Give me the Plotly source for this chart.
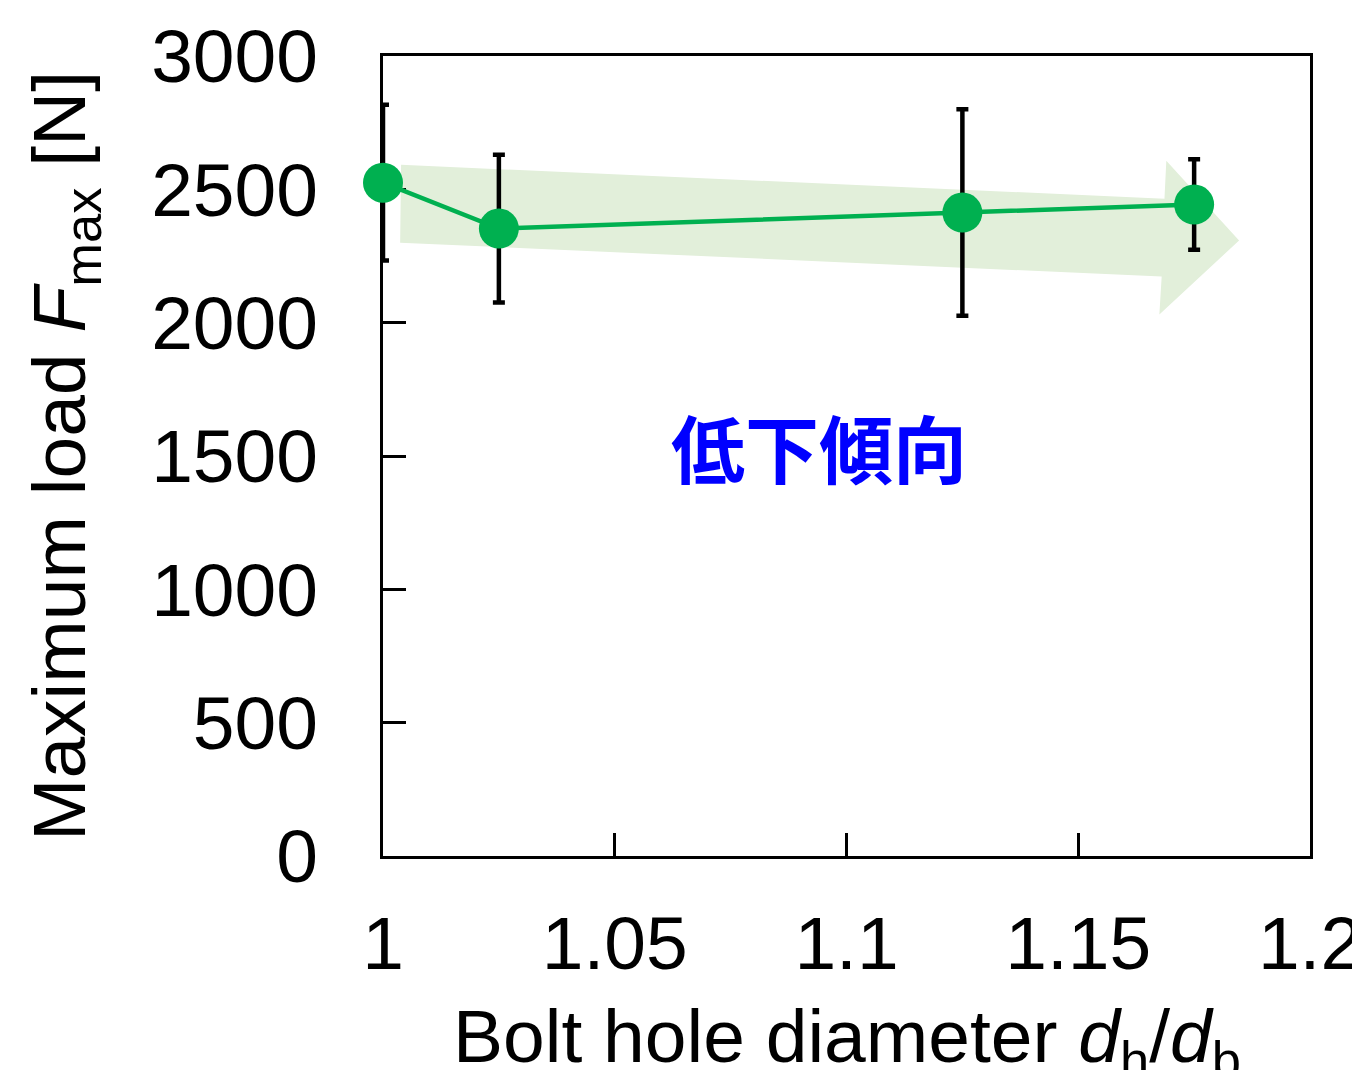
import plotly.graph_objects as go

# Data
ratio = [1.0, 1.025, 1.125, 1.175]
fmax = [2525, 2353, 2413, 2443]
fmax_err = [292, 277, 387, 170]

x_ticks = [1.0, 1.05, 1.1, 1.15, 1.2]
x_tick_text = ["1", "1.05", "1.1", "1.15", "1.2"]
y_ticks = [0, 500, 1000, 1500, 2000, 2500, 3000]
y_tick_text = ["0", "500", "1000", "1500", "2000", "2500", "3000"]

# Trend arrow outline (data coordinates)
arrow_x = [1.0039, 1.1686, 1.1690, 1.1847, 1.1675, 1.1680, 1.0037]
arrow_y = [2592, 2465, 2607, 2308, 2031, 2173, 2300]

trend_label = "低下傾向"
trend_pos = (1.094, 1541)

x_title = "Bolt hole diameter <i>d</i><sub>h</sub>/<i>d</i><sub>b</sub>"
y_title = "Maximum load <i>F</i><sub>max</sub> [N]"

GREEN = "#00b050"
FONT = "Liberation Sans, Arial, sans-serif"
FS = 75

fig = go.Figure()

path = "M " + " L ".join(f"{x},{y}" for x, y in zip(arrow_x, arrow_y)) + " Z"
fig.add_shape(type="path", path=path, xref="x", yref="y",
              fillcolor="#e2efda", line=dict(width=0), layer="below")

# error bars (clipped)
fig.add_trace(go.Scatter(
    x=ratio, y=fmax, mode="markers",
    marker=dict(size=1, color="rgba(0,0,0,0)"),
    error_y=dict(type="data", array=fmax_err, visible=True,
                 color="black", thickness=4.5, width=6),
    cliponaxis=True, showlegend=False, hoverinfo="skip"))

# line + markers (not clipped)
fig.add_trace(go.Scatter(
    x=ratio, y=fmax, mode="lines+markers",
    line=dict(color=GREEN, width=4.5),
    marker=dict(size=40, color=GREEN),
    cliponaxis=False, showlegend=False))

fig.add_annotation(x=trend_pos[0], y=trend_pos[1], xref="x", yref="y",
                   text=f"<b>{trend_label}</b>", showarrow=False,
                   font=dict(family="Noto Sans CJK JP", size=74, color="#0000ff"))

# x-axis title as annotation (reference shows it cut at the bottom edge)
fig.add_annotation(x=0.5, y=-0.17, xref="paper", yref="paper",
                   xanchor="center", yanchor="top", text=x_title,
                   showarrow=False, font=dict(family=FONT, size=FS, color="black"))

fig.update_layout(
    width=1360, height=1070,
    margin=dict(l=375, r=58, t=48, b=222, autoexpand=False),
    paper_bgcolor="white", plot_bgcolor="white",
    font=dict(family=FONT, size=FS, color="black"),
)
fig.update_xaxes(
    range=[1.0, 1.2], tickvals=x_ticks, ticktext=x_tick_text,
    ticks="inside", ticklen=23, tickwidth=3, tickcolor="black",
    showline=True, linecolor="black", linewidth=3, mirror=True,
    showgrid=False, zeroline=False, layer="below traces",
    automargin=False, ticklabeloverflow="allow",
    ticklabelstandoff=20,
    tickfont=dict(family=FONT, size=FS),
)
fig.update_yaxes(
    range=[0, 3000], tickvals=y_ticks, ticktext=y_tick_text,
    ticks="inside", ticklen=23, tickwidth=3, tickcolor="black",
    showline=True, linecolor="black", linewidth=3, mirror=True,
    showgrid=False, zeroline=False, layer="below traces",
    automargin=False,
    ticklabelstandoff=47,
    tickfont=dict(family=FONT, size=FS),
    title=dict(text=y_title, font=dict(family=FONT, size=FS), standoff=41),
)

fig.write_html("out.html")
